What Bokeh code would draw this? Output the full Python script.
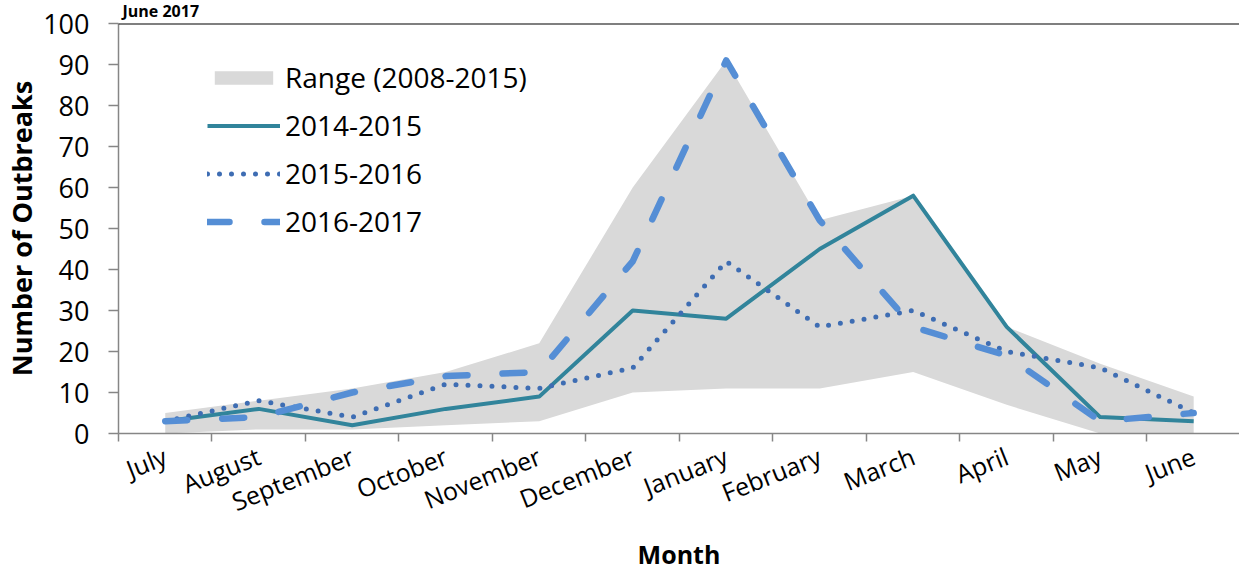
from bokeh.plotting import figure
from bokeh.models import (Range1d, FixedTicker, LinearAxis, Legend, LegendItem,
                          Span, ColumnDataSource)
from bokeh.embed import file_html
from bokeh.resources import INLINE

# ---- data ----
months = ["July", "August", "September", "October", "November", "December",
          "January", "February", "March", "April", "May", "June"]
range_low = [0, 1, 1, 2, 3, 10, 11, 11, 15, 7, 0, 0]
range_high = [5, 8, 11, 15, 22, 60, 91, 52, 58, 26, 17, 9]
season_1415 = [3, 6, 2, 6, 9, 30, 28, 45, 58, 26, 4, 3]
season_1516 = [3, 8, 4, 12, 11, 16, 42, 26, 30, 20, 16, 5]
season_1617 = [3, 4, 10, 14, 15, 42, 91, 52, 26, 19, 3, 5]
y_ticks = list(range(0, 101, 10))

FONT = "Open Sans"
GRAY_AXIS = "#868686"

idx = list(range(len(months)))
src = ColumnDataSource(dict(x=idx, low=range_low, high=range_high,
                            a=season_1415, b=season_1516, c=season_1617))

p = figure(width=1239, height=573, output_backend="svg", toolbar_location=None,
           title="June 2017",
           x_range=Range1d(-0.5, len(months) - 0.51), y_range=Range1d(0, 100),
           x_axis_type=None, y_axis_type=None,
           min_border_left=118, min_border_right=0, min_border_top=0,
           min_border_bottom=139)
p.outline_line_color = None
p.background_fill_color = "white"

p.title.text_font = FONT
p.title.text_font_size = "16px"
p.title.text_font_style = "bold"
p.title.text_color = "black"
p.title.align = "left"
p.title.vertical_align = "top"
p.title.offset = 4
p.title.standoff = -1

# y axis
yax = LinearAxis(ticker=FixedTicker(ticks=y_ticks))
yax.axis_line_color = GRAY_AXIS
yax.axis_line_width = 1.5
yax.major_tick_line_color = GRAY_AXIS
yax.major_tick_line_width = 1.5
yax.major_tick_out = 10
yax.major_tick_in = 0
yax.minor_tick_line_color = None
yax.major_label_text_font = FONT
yax.major_label_text_font_size = "27px"
yax.major_label_text_color = "black"
yax.major_label_standoff = 19
yax.axis_label = "Number of Outbreaks"
yax.axis_label_text_font = FONT
yax.axis_label_text_font_size = "27px"
yax.axis_label_text_font_style = "bold"
yax.axis_label_text_color = "black"
yax.axis_label_standoff = 0
p.add_layout(yax, "left")

# x axis: labels at category centres, tick marks between categories
xax = LinearAxis(ticker=FixedTicker(ticks=idx, minor_ticks=[i - 0.5 for i in idx]))
xax.major_label_overrides = {i: m for i, m in enumerate(months)}
xax.axis_line_color = GRAY_AXIS
xax.axis_line_width = 1.5
xax.major_tick_line_color = None
xax.major_tick_out = 8
xax.major_tick_in = 0
xax.minor_tick_line_color = GRAY_AXIS
xax.minor_tick_line_width = 1.5
xax.minor_tick_out = 8
xax.minor_tick_in = 0
xax.major_label_orientation = 0.38
xax.major_label_text_font = FONT
xax.major_label_text_font_size = "25px"
xax.major_label_text_color = "black"
xax.major_label_standoff = 13
xax.axis_label = "Month"
xax.axis_label_text_font = FONT
xax.axis_label_text_font_size = "25px"
xax.axis_label_text_font_style = "bold"
xax.axis_label_text_color = "black"
xax.axis_label_standoff = 0
p.add_layout(xax, "below")

# top border
p.add_layout(Span(location=p.y_range.end, dimension="width",
                  line_color="black", line_width=2))

# series
r_range = p.varea(x="x", y1="low", y2="high", source=src, fill_color="#D9D9D9")
r_a = p.line(x="x", y="a", source=src, line_color="#31849B", line_width=4,
             line_join="round")
r_b = p.line(x="x", y="b", source=src, line_color="#3E6DB3", line_width=5,
             line_dash="0 12", line_cap="round", line_join="round")
r_c = p.line(x="x", y="c", source=src, line_color="#558ED5", line_width=6.5,
             line_dash="22 35", line_cap="round", line_join="round")

legend = Legend(items=[
    LegendItem(label="Range (2008-2015)", renderers=[r_range]),
    LegendItem(label="2014-2015", renderers=[r_a]),
    LegendItem(label="2015-2016", renderers=[r_b]),
    LegendItem(label="2016-2017", renderers=[r_c]),
], location=(89, 192))
legend.label_text_font = FONT
legend.label_text_font_size = "28px"
legend.label_text_color = "black"
legend.glyph_width = 73
legend.glyph_height = 17
legend.label_height = 40
legend.label_standoff = 5
legend.spacing = 8
legend.padding = 0
legend.margin = 0
legend.border_line_color = None
legend.background_fill_alpha = 0
p.add_layout(legend)

open("out.html", "w").write(file_html(p, INLINE))
